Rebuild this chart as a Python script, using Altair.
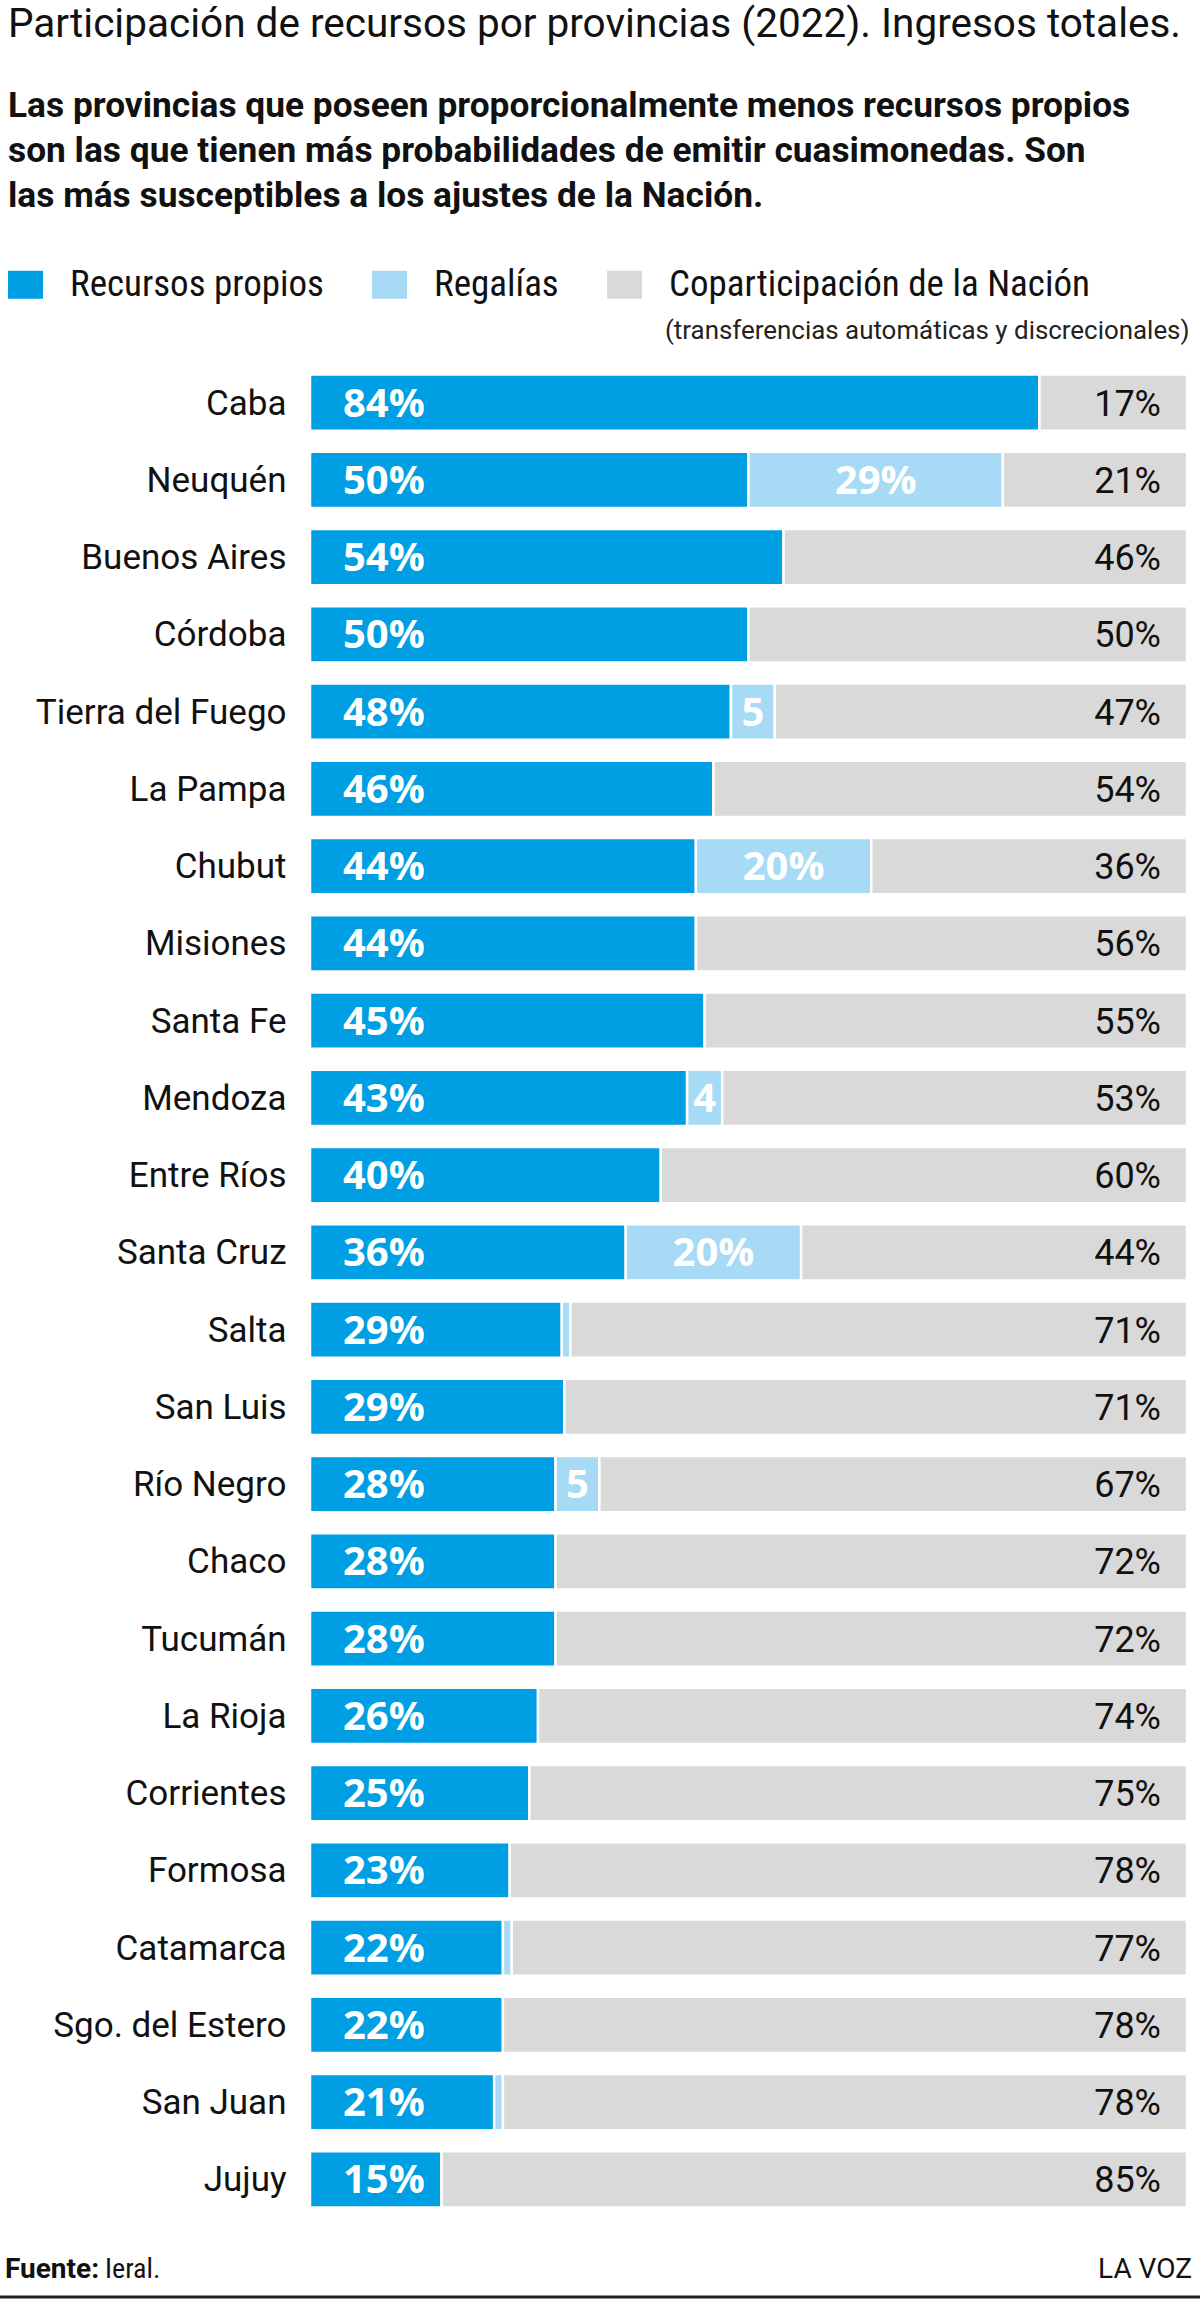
import altair as alt
import pandas as pd

# Participación de recursos por provincia (2022), % de ingresos totales
provincias = ["Caba", "Neuquén", "Buenos Aires", "Córdoba", "Tierra del Fuego",
              "La Pampa", "Chubut", "Misiones", "Santa Fe", "Mendoza",
              "Entre Ríos", "Santa Cruz", "Salta", "San Luis", "Río Negro",
              "Chaco", "Tucumán", "La Rioja", "Corrientes", "Formosa",
              "Catamarca", "Sgo. del Estero", "San Juan", "Jujuy"]
propios = [84, 50, 54, 50, 48, 46, 44, 44, 45, 43, 40, 36,
           29, 29, 28, 28, 28, 26, 25, 23, 22, 22, 21, 15]
regalias = [0, 29, 0, 0, 5, 0, 20, 0, 0, 4, 0, 20,
            1, 0, 5, 0, 0, 0, 0, 0, 1, 0, 1, 0]
nacion = [17, 21, 46, 50, 47, 54, 36, 56, 55, 53, 60, 44,
          71, 71, 67, 72, 72, 74, 75, 78, 77, 78, 78, 85]

series = ["Recursos propios", "Regalías", "Coparticipación de la Nación"]
colores = ["#009FE3", "#A6DAF5", "#D9D9D9"]

titulo = "Participación de recursos por provincias (2022). Ingresos totales."
bajada = ["Las provincias que poseen proporcionalmente menos recursos propios",
          "son las que tienen más probabilidades de emitir cuasimonedas. Son",
          "las más susceptibles a los ajustes de la Nación."]
nota = "(transferencias automáticas y discrecionales)"

COND = "Roboto Condensed, Liberation Sans Narrow, Roboto, sans-serif"
SANS = "Roboto, sans-serif"
NUM = "Open Sans, Roboto, sans-serif"
INK = "#111111"

rows = []
for i, p in enumerate(provincias):
    for orden, (s, vals) in enumerate(zip(series, [propios, regalias, nacion])):
        if vals[i] > 0:
            rows.append({"provincia": p, "serie": s, "valor": vals[i], "orden": orden})
df = pd.DataFrame(rows)

x_scale = alt.Scale(domain=[0, 1], nice=False, zero=True)
y_scale = alt.Scale(paddingInner=0.27, paddingOuter=0.135)
y_axis = alt.Axis(title=None, domain=False, ticks=False, grid=False,
                  labelPadding=24, labelFontSize=35, labelFont=SANS,
                  labelColor=INK, labelBaseline="alphabetic",
                  labelOffset=12, labelLimit=400)

base = alt.Chart(df).transform_stack(
    stack="valor", groupby=["provincia"], as_=["x0", "x1"], offset="normalize",
    sort=[alt.SortField("orden", order="ascending")]
).transform_calculate(
    xm="(datum.x0 + datum.x1) / 2",
    etiqueta="datum.serie == 'Regalías' ? (datum.valor >= 10 ? datum.valor + '%' : (datum.valor >= 2 ? '' + datum.valor : '')) : datum.valor + '%'"
)

barras = base.mark_bar(stroke="white", strokeWidth=2.5).encode(
    x=alt.X("x0:Q", scale=x_scale, axis=None),
    x2="x1:Q",
    y=alt.Y("provincia:N", sort=provincias, scale=y_scale, axis=y_axis),
    color=alt.Color("serie:N", scale=alt.Scale(domain=series, range=colores),
                    legend=alt.Legend(orient="none", legendX=-303, legendY=-98,
                                      direction="horizontal", title=None,
                                      symbolType="M-1,-0.8H1V0.8H-1Z", symbolSize=1225,
                                      symbolStrokeWidth=0, symbolOpacity=1,
                                      labelFont=COND, labelFontSize=37,
                                      labelColor=INK, labelOffset=26,
                                      columnPadding=47, labelLimit=600)),
)

# Las capas de texto comparten el eje Y de las barras
y_txt = alt.Y("provincia:N", sort=provincias, scale=y_scale)

txt_propios = base.transform_filter("datum.serie == 'Recursos propios'").mark_text(
    align="left", baseline="alphabetic", dx=33, dy=14, font=NUM, fontSize=40,
    fontWeight="bold", color="white"
).encode(x=alt.X("x0:Q", scale=x_scale, axis=None), y=y_txt, text="etiqueta:N")

txt_regalias = base.transform_filter("datum.serie == 'Regalías'").mark_text(
    align="center", baseline="alphabetic", dy=14, font=NUM, fontSize=40,
    fontWeight="bold", color="white"
).encode(x=alt.X("xm:Q", scale=x_scale, axis=None), y=y_txt, text="etiqueta:N")

txt_nacion = base.transform_filter("datum.serie == 'Coparticipación de la Nación'").mark_text(
    align="right", baseline="alphabetic", dx=-26, dy=13, font=SANS, fontSize=36,
    color=INK
).encode(x=alt.X("x1:Q", scale=x_scale, axis=None), y=y_txt, text="etiqueta:N")

# Aclaración bajo la tercera entrada de la leyenda
txt_nota = alt.Chart(pd.DataFrame({"t": [nota]})).mark_text(
    align="left", baseline="alphabetic", font=SANS, fontSize=25.9, color="#222222"
).encode(x=alt.value(355), y=alt.value(-25), text="t:N")

# Pie: fuente, firma y filete inferior
txt_fuente = alt.Chart(pd.DataFrame({"t": ["Fuente:"]})).mark_text(
    align="left", baseline="alphabetic", font=SANS, fontSize=28, fontWeight="bold", color=INK
).encode(x=alt.value(-305), y=alt.value(1914), text="t:N")
txt_ieral = alt.Chart(pd.DataFrame({"t": ["Ieral."]})).mark_text(
    align="left", baseline="alphabetic", font=COND, fontSize=28, color=INK
).encode(x=alt.value(-205), y=alt.value(1914), text="t:N")
txt_firma = alt.Chart(pd.DataFrame({"t": ["LA VOZ"]})).mark_text(
    align="right", baseline="alphabetic", font=SANS, fontSize=28, color=INK
).encode(x=alt.value(882), y=alt.value(1914), text="t:N")
filete = alt.Chart(pd.DataFrame({"t": [0]})).mark_rule(color="#222222", strokeWidth=3).encode(
    x=alt.value(-310), x2=alt.value(890), y=alt.value(1933))

chart = alt.layer(
    barras, txt_propios, txt_regalias, txt_nacion, txt_nota,
    txt_fuente, txt_ieral, txt_firma, filete
).properties(
    width=877, height=1854,
    title=alt.TitleParams(text=titulo, subtitle=bajada, anchor="start", frame="group",
                          dx=-302, offset=52, font=SANS, fontSize=40.5, fontWeight="normal",
                          color=INK, subtitleFont=SANS, subtitleFontSize=35.3,
                          subtitleFontWeight="bold", subtitleColor=INK,
                          subtitleLineHeight=45, subtitlePadding=43),
    autosize=alt.AutoSizeParams(type="none"),
    padding={"left": 310, "top": 364, "right": 13, "bottom": 82},
    background="white",
).configure_view(strokeWidth=0).configure_axis(domain=False, ticks=False, grid=False)

chart.save("out.html", embed_options={"renderer": "svg", "actions": False})
